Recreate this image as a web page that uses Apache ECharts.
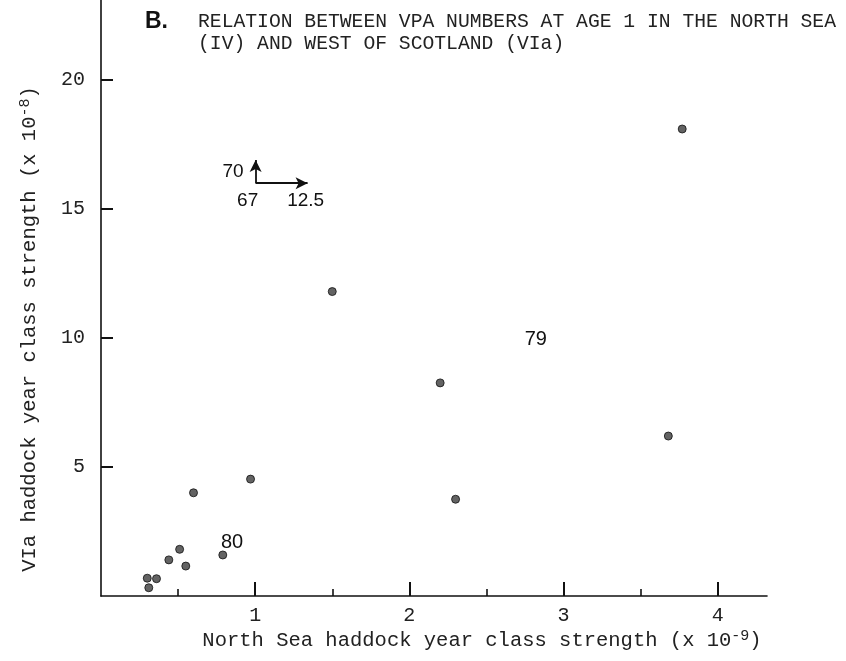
<!DOCTYPE html>
<html>
<head>
<meta charset="utf-8">
<script src="https://cdn.jsdelivr.net/npm/echarts@6/dist/echarts.min.js"></script>
<style>
  html, body { margin: 0; padding: 0; background: #fff; }
  #chart { width: 846px; height: 661px; }
</style>
</head>
<body>
<div id="chart"></div>
<script>
// Year-class strength at age 1 (VPA): North Sea (x 10^-9) vs West of Scotland (x 10^-8)
const northSea = [0.30, 0.36, 0.31, 0.44, 0.51, 0.55, 0.79, 0.60, 0.97, 1.50, 2.20, 2.30, 3.68, 3.77];
const westScotland = [0.69, 0.67, 0.32, 1.40, 1.81, 1.16, 1.59, 4.00, 4.53, 11.8, 8.26, 3.75, 6.20, 18.1];

const xTicks = [1, 2, 3, 4];
const xMinorTicks = [0.5, 1.5, 2.5, 3.5];
const yTicks = [5, 10, 15, 20];

const titleLetter = 'B.';
const titleLines = ['RELATION BETWEEN VPA NUMBERS AT AGE 1 IN THE NORTH SEA',
                    '(IV) AND WEST OF SCOTLAND (VIa)'];
const xName = ['North Sea haddock year class strength (x 10', '-9', ')'];
const yName = ['VIa haddock year class strength (x 10', '-8', ')'];

// Year-class labels placed in data coordinates
const yearNotes = [
  { text: '79', at: [2.82, 9.95] },
  { text: '80', at: [0.85, 2.07] }
];
// Off-scale 1967 year class (12.5, 70) shown by arrows
const offScale = { x: '12.5', y: '70', year: '67', origin: [1.003, 16.0], up: 16.9, right: 1.34 };

const mono = 'Liberation Mono';
const sans = 'Liberation Sans';
const ink = '#111';
const pts = northSea.map((v, i) => [v, westScotland[i]]);

const chart = echarts.init(document.getElementById('chart'), null, { renderer: 'canvas' });

const xRange = { min: 0, max: 4.32 };

chart.setOption({
  animation: false,
  backgroundColor: '#ffffff',
  grid: { left: 101, right: 79, top: 0, bottom: 65 },
  xAxis: [{
    type: 'value', min: xRange.min, max: xRange.max,
    axisLine: { show: true, onZero: false, lineStyle: { color: ink, width: 1.6 } },
    axisTick: { show: true, inside: true, length: 14, customValues: xTicks, lineStyle: { color: ink, width: 2 } },
    splitLine: { show: false },
    axisLabel: { margin: 10, color: '#222', fontFamily: mono, fontSize: 20, customValues: xTicks }
  }, {
    // short intermediate ticks
    type: 'value', min: xRange.min, max: xRange.max, position: 'bottom',
    axisLine: { show: false },
    axisTick: { show: true, inside: true, length: 7, customValues: xMinorTicks, lineStyle: { color: ink, width: 1.6 } },
    splitLine: { show: false },
    axisLabel: { show: false }
  }],
  yAxis: {
    type: 'value', min: 0, max: 23.1,
    axisLine: { show: true, onZero: false, lineStyle: { color: ink, width: 1.6 } },
    axisTick: { show: true, inside: true, length: 12, customValues: yTicks, lineStyle: { color: ink, width: 2 } },
    splitLine: { show: false },
    axisLabel: { margin: 16, color: '#222', fontFamily: mono, fontSize: 20, customValues: yTicks }
  },
  series: [{
    type: 'scatter',
    xAxisIndex: 0,
    data: pts,
    symbol: 'circle',
    symbolSize: 8,
    itemStyle: { color: '#3c3c3c', borderColor: ink, borderWidth: 1 },
    markLine: {
      silent: true,
      symbol: ['none', 'arrow'],
      symbolSize: [9, 12],
      label: { show: false },
      lineStyle: { color: ink, width: 1.8, type: 'solid' },
      data: [
        [{ coord: offScale.origin }, { coord: [offScale.origin[0], offScale.up] }],
        [{ coord: offScale.origin }, { coord: [offScale.right, offScale.origin[1]] }]
      ]
    }
  }]
});

// Annotation text positioned from data coordinates
function px(p) { return chart.convertToPixel({ gridIndex: 0 }, p); }
const elements = [];
yearNotes.forEach(n => {
  const p = px(n.at);
  elements.push({ type: 'text', x: p[0], y: p[1],
    style: { text: n.text, font: '20px ' + sans, fill: ink, align: 'center', verticalAlign: 'middle' } });
});
const o = px(offScale.origin);
elements.push({ type: 'text', x: o[0] - 12, y: o[1] - 11,
  style: { text: offScale.y, font: '19px ' + sans, fill: ink, align: 'right', verticalAlign: 'middle' } });
elements.push({ type: 'text', x: o[0] - 8, y: o[1] + 18,
  style: { text: offScale.year, font: '19px ' + sans, fill: ink, align: 'center', verticalAlign: 'middle' } });
elements.push({ type: 'text', x: o[0] + 50, y: o[1] + 18,
  style: { text: offScale.x, font: '19px ' + sans, fill: ink, align: 'center', verticalAlign: 'middle' } });

// Axis titles with superscript exponents
const nameRich = {
  t: { fontFamily: mono, fontSize: 20.5, fill: '#222' },
  s: { fontFamily: mono, fontSize: 15, fill: '#222', verticalAlign: 'top', padding: [0, 0, 10, 0] }
};
elements.push({ type: 'text', x: 482, y: 641,
  style: { text: '{t|' + xName[0] + '}{s|' + xName[1] + '}{t|' + xName[2] + '}',
           rich: nameRich, align: 'center', verticalAlign: 'middle' } });
elements.push({ type: 'text', x: 30, y: 329, rotation: Math.PI / 2,
  style: { text: '{t|' + yName[0] + '}{s|' + yName[1] + '}{t|' + yName[2] + '}',
           rich: nameRich, align: 'center', verticalAlign: 'middle' } });

// Title block
elements.push({ type: 'text', left: 145, top: 10,
  style: { text: titleLetter, font: 'bold 23px ' + sans, fill: ink } });
titleLines.forEach((t, i) => {
  elements.push({ type: 'text', left: 198, top: 12 + i * 22,
    style: { text: t, font: '19.7px ' + mono, fill: '#222' } });
});

chart.setOption({ graphic: elements });
</script>
</body>
</html>
